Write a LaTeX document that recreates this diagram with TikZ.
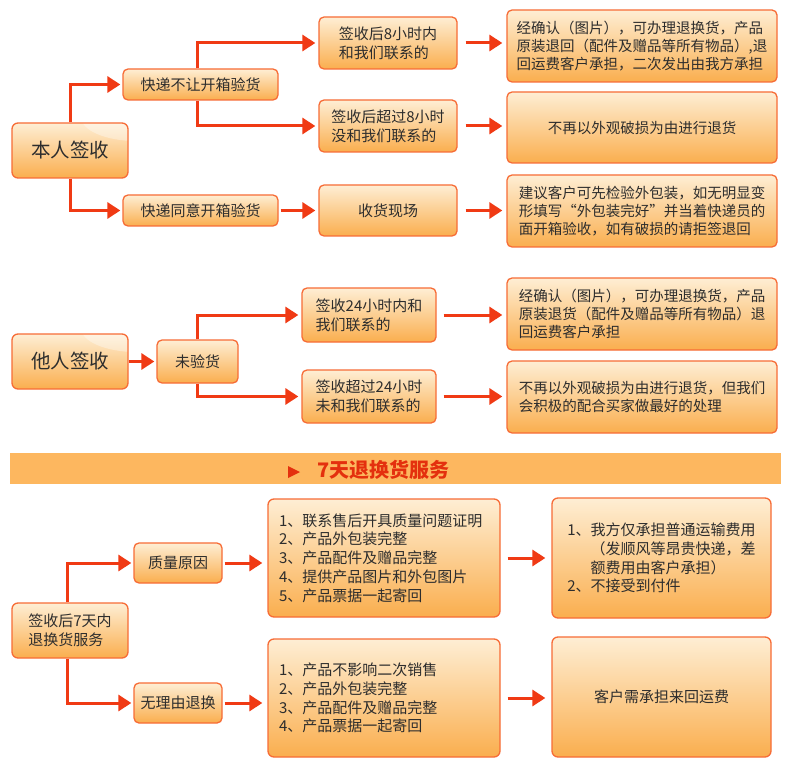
\documentclass[tikz,border=0pt]{standalone}
\usepackage{fontspec}
\setmainfont{Noto Sans CJK SC}
\usetikzlibrary{arrows.meta}
\definecolor{boxtop}{RGB}{254,238,212}
\definecolor{boxbot}{RGB}{250,174,78}
\definecolor{boxline}{RGB}{247,108,54}
\definecolor{arrc}{RGB}{240,58,20}
\definecolor{txt}{RGB}{45,45,45}
\definecolor{bannerc}{RGB}{253,183,95}
\definecolor{bannertxt}{RGB}{228,48,14}
\tikzset{
  box/.style={draw=boxline, line width=1.3pt, rounded corners=5pt, top color=boxtop, bottom color=boxbot,
    text=txt, inner sep=2pt, font=\fontsize{15}{18.7}\selectfont, align=left},
  rbox/.style={box, font=\fontsize{14.5}{18.3}\selectfont},
  bigbox/.style={box, rounded corners=6pt, font=\fontsize{19.5}{23}\selectfont,
    path picture={\fill[white,opacity=0.35] ([xshift=8pt,yshift=6pt]path picture bounding box.north east) ellipse [x radius=55pt, y radius=24pt];}},
  arr/.style={draw=arrc, line width=3pt, -{Triangle[length=13pt,width=16pt]}},
}
\begin{document}
\begin{tikzpicture}[x=1pt,y=-1pt]
\useasboundingbox (0,0) rectangle (790,778);
\fill[white] (0,0) rectangle (790,778);

% ---- section 1
\node[bigbox, minimum width=116pt, minimum height=55pt] (ben) at (70,150.5) {本人签收};
\node[box, minimum width=155pt, minimum height=31pt] (k1) at (200.5,84.5) {快递不让开箱验货};
\node[box, minimum width=155pt, minimum height=31pt] (k2) at (200.5,210.5) {快递同意开箱验货};
\node[box, minimum width=138pt, minimum height=52pt] (s1) at (388,43) {签收后8小时内\\和我们联系的};
\node[box, minimum width=138pt, minimum height=52pt] (s2) at (388,126) {签收后超过8小时\\没和我们联系的};
\node[box, minimum width=138pt, minimum height=51pt] (s3) at (388,210.5) {收货现场};
\node[rbox, minimum width=270pt, minimum height=72pt] (r1) at (642,46) {经确认（图片），可办理退换货，产品\\原装退回（配件及赠品等所有物品）,退\\回运费客户承担，二次发出由我方承担};
\node[rbox, minimum width=270pt, minimum height=71pt] (r2) at (642,127.5) {不再以外观破损为由进行退货};
\node[rbox, minimum width=270pt, minimum height=72pt] (r3) at (642,211) {建议客户可先检验外包装，如无明显变\\形填写“外包装完好”并当着快递员的\\面开箱验收，如有破损的请拒签退回};

\draw[arr] (ben.north) |- ([xshift=-2pt]k1.west);
\draw[arr] (ben.south) |- ([xshift=-2pt]k2.west);
\draw[arr] ([xshift=-3pt]k1.north) |- ([xshift=-3pt]s1.west);
\draw[arr] ([xshift=-3pt]k1.south) |- ([xshift=-3pt]s2.west);
\draw[arr, shorten <=2pt, shorten >=3pt] (k2.east) -- (s3.west);
\draw[arr, shorten <=8pt, shorten >=4pt] (s1.east) -- (s1.east -| r1.west);
\draw[arr, shorten <=8pt, shorten >=4pt] (s2.east) -- (s2.east -| r2.west);
\draw[arr, shorten <=8pt, shorten >=4pt] (s3.east) -- (s3.east -| r3.west);

% ---- section 2
\node[bigbox, minimum width=116pt, minimum height=55pt] (ta) at (70,361.5) {他人签收};
\node[box, minimum width=81pt, minimum height=43pt] (wy) at (197.5,361.5) {未验货};
\node[box, minimum width=134pt, minimum height=54pt] (m1) at (369,315) {签收24小时内和\\我们联系的};
\node[box, minimum width=134pt, minimum height=53pt] (m2) at (369,396.5) {签收超过24小时\\未和我们联系的};
\node[rbox, minimum width=270pt, minimum height=72pt] (q1) at (642,314) {经确认（图片），可办理退换货，产品\\原装退货（配件及赠品等所有物品）退\\回运费客户承担};
\node[rbox, minimum width=270pt, minimum height=72pt] (q2) at (642,397) {不再以外观破损为由进行退货，但我们\\会积极的配合买家做最好的处理};

\draw[arr, shorten >=2pt] (ta.east) -- (wy.west);
\draw[arr] (wy.north) |- ([xshift=-3pt]m1.west);
\draw[arr] (wy.south) |- ([xshift=-3pt]m2.west);
\draw[arr, shorten <=7pt, shorten >=4pt] (m1.east) -- (m1.east -| q1.west);
\draw[arr, shorten <=7pt, shorten >=4pt] (m2.east) -- (m2.east -| q2.west);

% ---- banner
\fill[bannerc] (10,453) rectangle (781,484);
\fill[bannertxt] (288,466) -- (300,472) -- (288,478) -- cycle;
\node[text=bannertxt, font=\fontsize{20}{24}\selectfont\bfseries, anchor=west, inner sep=0pt] (ban) at (317,469.5) {7天退换货服务};

% ---- section 3
\node[box, minimum width=116pt, minimum height=55pt, rounded corners=6pt] (qi) at (70,630.5) {签收后7天内\\退换货服务};
\node[box, minimum width=88pt, minimum height=40pt] (zl) at (178,563) {质量原因};
\node[box, minimum width=88pt, minimum height=40pt] (wl) at (178,703) {无理由退换};
\node[box, minimum width=232pt, minimum height=118pt, rounded corners=6pt, text width=210pt] (b1) at (384,558) {1、联系售后开具质量问题证明\\2、产品外包装完整\\3、产品配件及赠品完整\\4、提供产品图片和外包图片\\5、产品票据一起寄回};
\node[box, minimum width=232pt, minimum height=118pt, rounded corners=6pt, text width=210pt] (b2) at (384,698) {1、产品不影响二次销售\\2、产品外包装完整\\3、产品配件及赠品完整\\4、产品票据一起寄回};
\node[box, minimum width=219pt, minimum height=120pt, rounded corners=6pt] (c1) at (661.5,558) {1、我方仅承担普通运输费用\\\phantom{1、}（发顺风等昂贵快递，差\\\phantom{1、}额费用由客户承担）\\2、不接受到付件};
\node[box, minimum width=219pt, minimum height=120pt, rounded corners=6pt] (c2) at (661.5,697) {客户需承担来回运费};

\draw[arr] ([xshift=-3pt]qi.north) |- ([xshift=-2pt]zl.west);
\draw[arr] ([xshift=-3pt]qi.south) |- ([xshift=-2pt]wl.west);
\draw[arr, shorten <=2pt, shorten >=5pt] (zl.east) -- (zl.east -| b1.west);
\draw[arr, shorten <=2pt, shorten >=5pt] (wl.east) -- (wl.east -| b2.west);
\draw[arr, shorten <=7pt, shorten >=6pt] (b1.east) -- (b1.east -| c1.west);
\draw[arr, shorten <=7pt, shorten >=6pt] (b2.east) -- (b2.east -| c2.west);
\end{tikzpicture}
\end{document}
